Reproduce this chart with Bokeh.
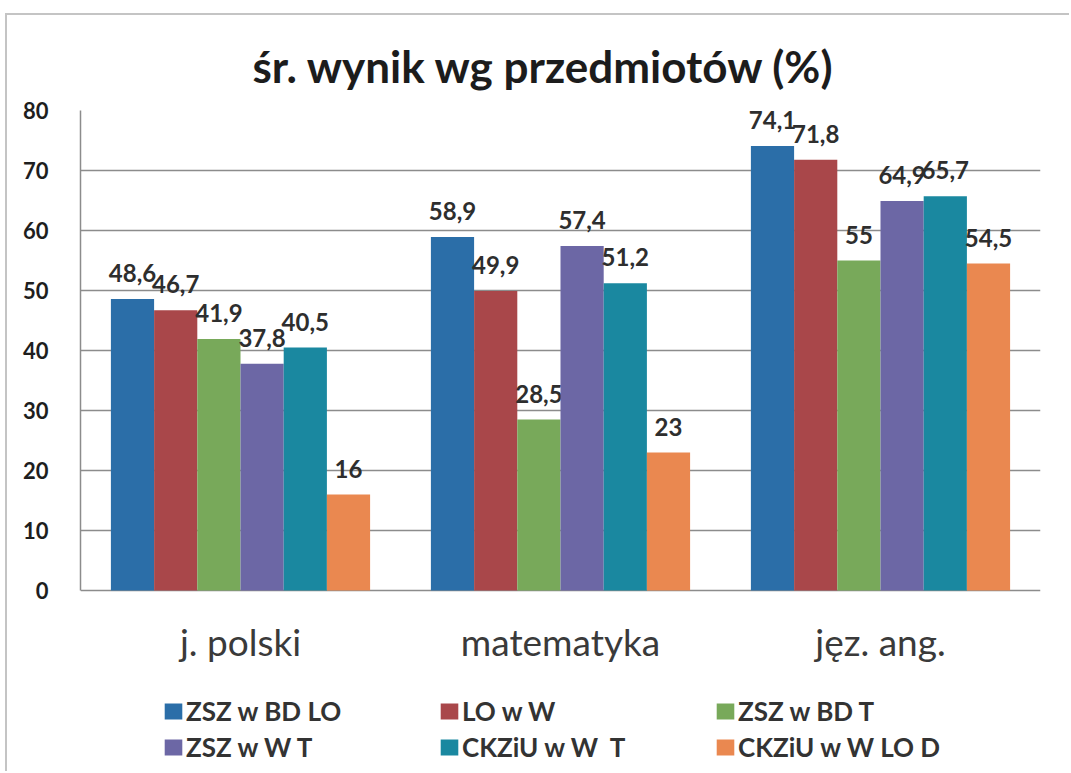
from bokeh.plotting import figure
from bokeh.models import ColumnDataSource, Range1d, FactorRange, Legend, LegendItem, Title, FixedTicker
from bokeh.transform import dodge
from bokeh.core.properties import value
from bokeh.embed import file_html
from bokeh.resources import INLINE

title_text = "śr. wynik wg przedmiotów (%)"
subjects = ["j. polski", "matematyka", "jęz. ang."]
series_names = ["ZSZ w BD LO", "LO w W", "ZSZ w BD T", "ZSZ w W T", "CKZiU w W  T", "CKZiU w W LO D"]
zsz_bd_lo = [48.6, 58.9, 74.1]
lo_w = [46.7, 49.9, 71.8]
zsz_bd_t = [41.9, 28.5, 55.0]
zsz_w_t = [37.8, 57.4, 64.9]
ckziu_w_t = [40.5, 51.2, 65.7]
ckziu_w_lo_d = [16.0, 23.0, 54.5]
y_ticks = [0, 10, 20, 30, 40, 50, 60, 70, 80]

series_values = [zsz_bd_lo, lo_w, zsz_bd_t, zsz_w_t, ckziu_w_t, ckziu_w_lo_d]
colors = ["#2b6ea8", "#a9474a", "#78a95a", "#6c67a5", "#1a88a0", "#ea8850"]

FONT = "Lato"
W, H = 1064, 758
TOP, LEFT, RIGHT = 95, 73, 31
frame_h = H - TOP
# the frame extends below 0 to hold the category labels and legend (6 px per unit)
y_start = 80 - frame_h / 6.0

p = figure(x_range=FactorRange(*subjects), y_range=Range1d(y_start, 80),
           width=W, height=H, output_backend="svg", toolbar_location=None,
           min_border_left=LEFT, min_border_right=RIGHT, min_border_top=TOP, min_border_bottom=0,
           styles={"margin-left": "5px", "margin-top": "13px",
                   "border-left": "2px solid #c4c4c4", "border-top": "2px solid #c4c4c4"})
p.outline_line_color = None
p.background_fill_color = "white"
p.border_fill_color = "white"

p.xaxis.visible = False
p.xgrid.grid_line_color = None
p.ygrid.grid_line_color = "#8c8c8c"
p.ygrid.grid_line_width = 1.5
p.yaxis.ticker = FixedTicker(ticks=y_ticks)
p.yaxis.bounds = (0, 80)

p.yaxis.axis_line_color = "#8c8c8c"
p.yaxis.axis_line_width = 1.5
p.yaxis.major_tick_line_color = None
p.yaxis.minor_tick_line_color = None
p.yaxis.major_label_standoff = 26
p.yaxis.major_label_text_font = FONT
p.yaxis.major_label_text_font_style = "bold"
p.yaxis.major_label_text_font_size = "22px"
p.yaxis.major_label_text_color = "#1e1e1e"

bar_w = 0.135
items = []
for i, (name, vals, col) in enumerate(zip(series_names, series_values, colors)):
    off = (i - 2.5) * bar_w
    src = ColumnDataSource(dict(x=subjects, top=vals,
                                lab=[f"{v:g}".replace(".", ",") for v in vals]))
    r = p.vbar(x=dodge("x", off, range=p.x_range), top="top", width=bar_w, source=src,
               fill_color=col, line_color=None)
    p.text(x=dodge("x", off, range=p.x_range), y="top", text="lab", source=src,
           text_align="center", text_baseline="middle", y_offset=-26,
           text_font=value(FONT), text_font_style="bold", text_font_size="24px",
           text_color="#2e2e2e")
    items.append(LegendItem(label=name, renderers=[r]))

# category labels under the zero line
cat_src = ColumnDataSource(dict(x=subjects, y=[0] * len(subjects), t=subjects))
p.text(x="x", y="y", text="t", source=cat_src, text_align="center",
       text_baseline="alphabetic", y_offset=51,
       text_font=value(FONT), text_font_size="37px", text_color="#3a3a3a")

# legend is filled column by column: reorder so rows read like the reference
order = [0, 3, 1, 4, 2, 5]
legend = Legend(items=[items[k] for k in order], ncols=3, location=(82, 10),
                glyph_width=22, glyph_height=20, label_standoff=2, label_width=248,
                label_height=30, spacing=4, padding=0, margin=0,
                label_text_font=FONT, label_text_font_style="bold",
                label_text_font_size="26px", label_text_color="#333333",
                border_line_color=None, background_fill_alpha=0)
p.add_layout(legend, "center")

p.title = Title(text=title_text, align="left", offset=172, standoff=38,
                text_font=FONT, text_font_style="bold", text_font_size="44px",
                text_color="#1c1c1c")

open("out.html", "w").write(file_html(p, INLINE))
